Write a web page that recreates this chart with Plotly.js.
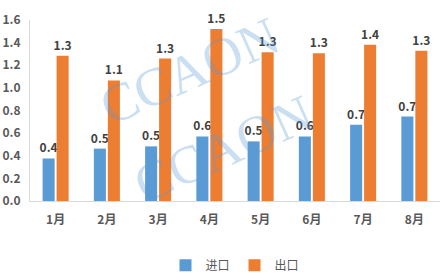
<!DOCTYPE html>
<html>
<head>
<meta charset="utf-8">
<script src="https://cdn.plot.ly/plotly-3.0.1.min.js"></script>
<style>html,body{margin:0;padding:0;background:#fff;}#chart{width:440px;height:280px;}</style>
</head>
<body>
<div id="chart"></div>
<script>
const months = ["1月","2月","3月","4月","5月","6月","7月","8月"];
const importVals = [0.376, 0.463, 0.483, 0.571, 0.527, 0.571, 0.673, 0.746];
const exportVals = [1.285, 1.066, 1.259, 1.52, 1.314, 1.305, 1.381, 1.329];
const importLabels = ["0.4","0.5","0.5","0.6","0.5","0.6","0.7","0.7"];
const exportLabels = ["1.3","1.1","1.3","1.5","1.3","1.3","1.4","1.3"];
const yTicks = [0, 0.2, 0.4, 0.6, 0.8, 1.0, 1.2, 1.4, 1.6];
const yTickText = ["0.0","0.2","0.4","0.6","0.8","1.0","1.2","1.4","1.6"];

const font = "Noto Sans CJK SC, Liberation Sans, sans-serif";
const labelFont = {family: font, size: 12, color: "#404040", weight: "bold"};

const traces = [
  {type: "bar", name: "进口", x: months, y: importVals, text: importLabels,
   textposition: "outside", textfont: labelFont, cliponaxis: false, constraintext: "none",
   marker: {color: "#5B9BD5"}, hoverinfo: "none"},
  {type: "bar", name: "出口", x: months, y: exportVals, text: exportLabels,
   textposition: "outside", textfont: labelFont, cliponaxis: false, constraintext: "none",
   marker: {color: "#ED7D31"}, hoverinfo: "none"}
];

const wm = {family: "Liberation Serif, serif", size: 54, color: "rgba(91,155,213,0.32)"};
const wmPos = [[0.39,0.72],[0.471,0.29]];
const annotations = wmPos.map(p => ({
  text: "CCAON", xref: "paper", yref: "paper", x: p[0], y: p[1],
  showarrow: false, textangle: -24, font: wm, xanchor: "center", yanchor: "middle"
}));

const layout = {
  width: 440, height: 280,
  margin: {l: 30, r: 0, t: 20, b: 77},
  paper_bgcolor: "#fff", plot_bgcolor: "rgba(0,0,0,0)",
  barmode: "group", bargap: 0.454, bargroupgap: 0.14,
  font: {family: font, size: 12, color: "#595959"},
  showlegend: true,
  legend: {orientation: "h", x: 0.5, xanchor: "center", y: -0.355, yanchor: "middle",
           font: {family: font, size: 12, color: "#595959"}, itemwidth: 30,
           traceorder: "normal"},
  xaxis: {showline: true, linecolor: "#D9D9D9", linewidth: 1, showgrid: false, zeroline: false,
          ticks: "outside", ticklen: 8, tickcolor: "rgba(0,0,0,0)",
          tickfont: {family: font, size: 12, color: "#595959", weight: "bold"}, fixedrange: true},
  yaxis: {range: [0, 1.6], tickvals: yTicks, ticktext: yTickText, showline: true, linecolor: "#D9D9D9",
          linewidth: 1, showgrid: false, zeroline: false, ticks: "outside", ticklen: 6,
          tickcolor: "rgba(0,0,0,0)",
          tickfont: {family: font, size: 12, color: "#595959", weight: "bold"}, fixedrange: true},
  annotations: annotations
};

Plotly.newPlot("chart", traces, layout, {staticPlot: true, displayModeBar: false});
</script>
</body>
</html>
